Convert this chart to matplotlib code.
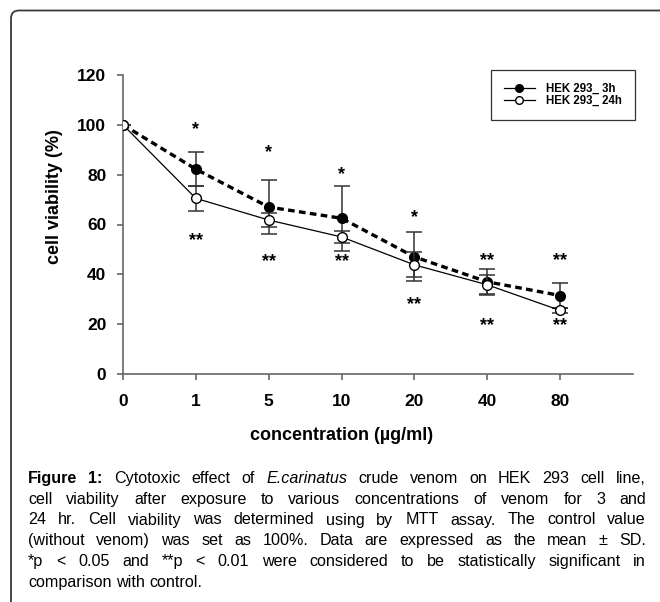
import matplotlib
matplotlib.use('Agg')
import matplotlib.pyplot as plt
from matplotlib.patches import FancyBboxPatch
from matplotlib.lines import Line2D
from matplotlib.transforms import offset_copy

# Datos del grafico
conc = ['0', '1', '5', '10', '20', '40', '80']
via_3h = [100, 82.2, 67, 62.5, 47, 37, 31.5]
sd_3h = [0, 6.7, 11, 13, 9.8, 5, 5]
via_24h = [100, 70.5, 61.8, 55, 43.8, 35.8, 25.5]
sd_24h = [0, 5, 2.7, 2.5, 5, 4, 1]
# asteriscos: (indice, valor y, texto)
sig_3h = [(1, 99.3, '*'), (2, 90.4, '*'), (3, 81.6, '*'), (4, 64.3, '*'),
          (5, 47.1, '**'), (6, 47.1, '**')]
sig_24h = [(1, 55.1, '**'), (2, 46.5, '**'), (3, 46.5, '**'), (4, 29.4, '**'),
           (5, 21.0, '**'), (6, 20.8, '**')]

caption = [
    [('Figure', 'bold'), ('1:', 'bold'), 'Cytotoxic', 'effect', 'of', ('E.carinatus', 'italic'),
     'crude', 'venom', 'on', 'HEK', '293', 'cell', 'line,'],
    'cell viability after exposure to various concentrations of venom for 3 and'.split(),
    '24 hr. Cell viability was determined using by MTT assay. The control value'.split(),
    '(without venom) was set as 100%. Data are expressed as the mean \u00b1 SD.'.split(),
    '*p < 0.05 and **p < 0.01 were considered to be statistically significant in'.split(),
    'comparison with control.'.split(),
]

W, H = 660, 602
plt.rcParams['font.family'] = ['Liberation Sans', 'DejaVu Sans']
fig = plt.figure(figsize=(W / 100, H / 100), dpi=100)

# marco redondeado
frame = FancyBboxPatch((0.11, -0.5), 8.0, 5.915 + 0.5,
                       boxstyle='round,pad=0,rounding_size=0.08',
                       transform=fig.dpi_scale_trans, facecolor='none',
                       edgecolor='#3a3a3a', linewidth=1.3)
fig.patches.append(frame)

ax = fig.add_axes([123 / W, (H - 374) / H, 510 / W, 299 / H])
x = list(range(len(conc)))

ax.errorbar(x, via_3h, yerr=sd_3h, fmt='o', color='black', ecolor='#333333',
            elinewidth=1.1, capsize=6, capthick=1.1, markersize=7, zorder=3,
            linestyle=(0, (2.0, 1.3)), linewidth=2.4)
ax.errorbar(x, via_24h, yerr=sd_24h, fmt='o', color='black', ecolor='#333333',
            elinewidth=1.1, capsize=6, capthick=1.1, markersize=7, zorder=4,
            markerfacecolor='white', linestyle='-', linewidth=0.9)

star_tr = offset_copy(ax.transData, fig=fig, x=0, y=-2.5, units='points')
for i, yv, s in sig_3h + sig_24h:
    ax.text(i, yv, s, ha='center', va='center', fontsize=13, fontweight='bold',
            transform=star_tr)

ax.set_xlim(0, 7)
ax.set_ylim(0, 120)
ax.set_xticks(x)
ax.set_xticklabels(conc)
ax.set_yticks(range(0, 121, 20))
for sp in ['top', 'right']:
    ax.spines[sp].set_visible(False)
for sp in ['left', 'bottom']:
    ax.spines[sp].set_color('#666666')
    ax.spines[sp].set_linewidth(1.2)
ax.tick_params(axis='both', colors='#666666', length=4, width=1.2, labelcolor='black',
               labelsize=12.5)
ax.tick_params(axis='x', pad=10.5)
ax.tick_params(axis='y', pad=8)
for lab in ax.get_xticklabels() + ax.get_yticklabels():
    lab.set_fontweight('bold')

ax.set_xlabel('concentration (\u00b5g/ml)', fontsize=13, fontweight='bold')
ax.set_ylabel('cell viability (%)', fontsize=13, fontweight='bold')
ax.xaxis.set_label_coords((342 - 123) / 510, -(427 - 374) / 299)
ax.yaxis.set_label_coords(-(123 - 63) / 510, (374 - 197) / 299)

# leyenda con lineas simples
h3 = Line2D([], [], color='black', lw=0.9, marker='o', markersize=5.5)
h24 = Line2D([], [], color='black', lw=0.9, marker='o', markersize=5.5,
             markerfacecolor='white')
leg = ax.legend([h3, h24], ['HEK 293_ 3h', 'HEK 293_ 24h'],
                loc='upper left', bbox_to_anchor=(491 / W, 1 - 70 / H),
                bbox_transform=fig.transFigure, frameon=True, fancybox=False,
                edgecolor='black', prop={'weight': 'bold', 'size': 8.3},
                handlelength=2.7, handletextpad=1.0, borderpad=1.1, labelspacing=0.05,
                borderaxespad=0)
leg.get_frame().set_linewidth(0.9)

fam = ['Liberation Sans', 'DejaVu Sans']
fsize = 11.6

# pie de figura justificado
fig.canvas.draw()
renderer = fig.canvas.get_renderer()
x0, x1 = 28, 646
base = [483, 504, 524.5, 545, 566, 587]
for k, line in enumerate(caption):
    arts = []
    for tok in line:
        if isinstance(tok, tuple):
            word, sty = tok
        else:
            word, sty = tok, 'normal'
        t = fig.text(0, 1 - base[k] / H, word, fontsize=fsize, family=fam, va='baseline',
                     fontweight='bold' if sty == 'bold' else 'normal',
                     fontstyle='italic' if sty == 'italic' else 'normal')
        arts.append(t)
    widths = [a.get_window_extent(renderer).width for a in arts]
    if k < len(caption) - 1:
        gap = (x1 - x0 - sum(widths)) / (len(arts) - 1)
    else:
        gap = renderer.points_to_pixels(fsize) * 0.28
    pos = x0
    for a, w in zip(arts, widths):
        a.set_x(pos / W)
        pos += w + gap

fig.savefig('out.png', dpi=100)
